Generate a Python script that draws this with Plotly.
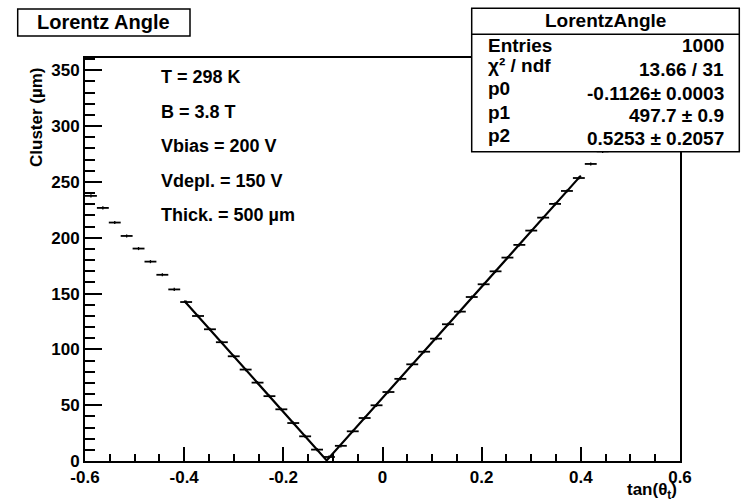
import numpy as np
import plotly.graph_objects as go

# Histogram binning of tan(theta_t)
n_bins = 50
bin_lo, bin_hi = -0.6, 0.6

# Mean cluster size per bin (um)
cluster = [
    237.5, 226.7, 213.6, 201.6, 190.3, 178.6, 166.8, 153.7, 142.4, 129.9,
    118.0, 106.4, 93.8, 81.9, 70.2, 58.1, 46.3, 34.0, 22.1, 10.2,
    3.6, 13.6, 26.6, 38.5, 49.9, 61.8, 73.6, 86.6, 97.9, 109.6,
    122.5, 133.8, 146.9, 158.3, 169.9, 182.2, 193.6, 206.4, 218.0, 230.3,
    241.9, 253.5, 266.1, 277.4, 289.2, 300.8, 312.5, 323.9, 334.6, 342.0,
]
cluster_err = 1.4

# Fit result: p1*|x - p0| + p2 over [fit_lo, fit_hi]
p0, p0_err = -0.1126, 0.0003
p1, p1_err = 497.7, 0.9
p2, p2_err = 0.5253, 0.2057
fit_lo, fit_hi = -0.4, 0.4
entries = 1000
chi2, ndf = 13.66, 31

conditions = ["T = 298 K", "B = 3.8 T", "Vbias = 200 V", "Vdepl. = 150 V", "Thick. = 500 \u00b5m"]

x_ticks = [-0.6, -0.4, -0.2, 0, 0.2, 0.4, 0.6]
x_ticktext = ["-0.6", "-0.4", "-0.2", "0", "0.2", "0.4", "0.6"]
y_ticks = [0, 50, 100, 150, 200, 250, 300, 350]

bin_w = (bin_hi - bin_lo) / n_bins
centers = bin_lo + bin_w * (np.arange(n_bins) + 0.5)

# Page geometry (pixels)
FW, FH = 748, 503
ML, MR, MT, MB = 85, 68, 58, 42
PW, PH = FW - ML - MR, FH - MT - MB


def px(x):
    return (x - ML) / PW


def py(y):
    return (FH - MB - y) / PH


FONT = "Liberation Sans, Arial, Helvetica, sans-serif"

fig = go.Figure()

fig.add_trace(go.Scatter(
    x=centers, y=cluster, mode="markers",
    marker=dict(size=1, color="black"),
    error_x=dict(type="constant", value=bin_w / 2, width=0, thickness=1.8, color="black"),
    error_y=dict(type="constant", value=cluster_err, width=0, thickness=1.3, color="black"),
    showlegend=False, hoverinfo="skip",
))

fit_x = [fit_lo, p0, fit_hi]
fit_y = [p1 * abs(v - p0) + p2 for v in fit_x]
fig.add_trace(go.Scatter(
    x=fit_x, y=fit_y, mode="lines",
    line=dict(color="black", width=2.2),
    showlegend=False, hoverinfo="skip",
))

axis_common = dict(
    showline=True, linecolor="black", linewidth=2, mirror=True,
    showgrid=False, zeroline=False, ticks="inside", tickcolor="black",
    tickfont=dict(family=FONT, size=17, color="black", weight="bold"),
)

fig.update_xaxes(
    range=[bin_lo, bin_hi], tickvals=x_ticks, ticktext=x_ticktext,
    ticklen=14, tickwidth=2,
    minor=dict(dtick=0.05, tick0=0, ticks="inside", ticklen=7, tickwidth=1.5, tickcolor="black"),
    **axis_common,
)
fig.update_yaxes(
    range=[0, 361], tickvals=y_ticks, ticklen=17, tickwidth=2,
    minor=dict(dtick=10, tick0=0, ticks="inside", ticklen=10, tickwidth=1.5, tickcolor="black"),
    **axis_common,
)

shapes = []
annotations = []

# Title box
shapes.append(dict(type="rect", xref="paper", yref="paper",
                   x0=px(17.7), x1=px(190), y0=py(36), y1=py(9),
                   line=dict(color="black", width=1.5), fillcolor="white", layer="above"))
annotations.append(dict(text="Lorentz Angle", xref="paper", yref="paper",
                        x=px(103), y=py(22.5), xanchor="center", yanchor="middle",
                        showarrow=False, font=dict(family=FONT, size=20, color="black", weight="bold")))

# Statistics box
sx0, sx1, sy0, sy1 = 471.7, 739.3, 8.3, 151.7
shapes.append(dict(type="rect", xref="paper", yref="paper",
                   x0=px(sx0), x1=px(sx1), y0=py(sy1), y1=py(sy0),
                   line=dict(color="black", width=1.5), fillcolor="white", layer="above"))
shapes.append(dict(type="line", xref="paper", yref="paper",
                   x0=px(sx0), x1=px(sx1), y0=py(34.3), y1=py(34.3),
                   line=dict(color="black", width=1.5), layer="above"))
stat_font = dict(family=FONT, size=19, color="black", weight="bold")
annotations.append(dict(text="LorentzAngle", xref="paper", yref="paper",
                        x=px((sx0 + sx1) / 2), y=py(21), xanchor="center", yanchor="middle",
                        showarrow=False, font=stat_font))
stat_rows = [
    ("Entries", f"{entries}", 45, 46),
    ("\u03c7\u00b2 / ndf", f"{chi2:.2f} / {ndf}", 66, 70),
    ("p0", f"{p0:.4f}\u00b1 {p0_err:.4f}", 88, 93),
    ("p1", f"{p1:.1f} \u00b1 {p1_err:.1f}", 112, 115),
    ("p2", f"{p2:.4f} \u00b1 {p2_err:.4f}", 135, 138),
]
for label, value, yl, yv in stat_rows:
    annotations.append(dict(text=label, xref="paper", yref="paper",
                            x=px(486), y=py(yl), xanchor="left", yanchor="middle",
                            showarrow=False, font=stat_font))
    annotations.append(dict(text=value, xref="paper", yref="paper",
                            x=px(726), y=py(yv), xanchor="right", yanchor="middle",
                            showarrow=False, font=stat_font))

# Run conditions
for i, txt in enumerate(conditions):
    annotations.append(dict(text=txt, xref="paper", yref="paper",
                            x=px(159), y=py(77 + 34.5 * i), xanchor="left", yanchor="middle",
                            showarrow=False, font=dict(family=FONT, size=18, color="black", weight="bold")))

# Axis titles
annotations.append(dict(text="tan(\u03b8<sub>t</sub>)", xref="paper", yref="paper",
                        x=px(679), y=py(491), xanchor="right", yanchor="middle",
                        showarrow=False, font=dict(family=FONT, size=17, color="black", weight="bold")))
annotations.append(dict(text="Cluster (\u00b5m)", xref="paper", yref="paper",
                        x=px(36.5), y=py(117.5), xanchor="center", yanchor="middle", textangle=-90,
                        showarrow=False, font=dict(family=FONT, size=17, color="black", weight="bold")))

fig.update_layout(
    width=FW, height=FH,
    margin=dict(l=ML, r=MR, t=MT, b=MB),
    paper_bgcolor="white", plot_bgcolor="white",
    shapes=shapes, annotations=annotations,
)

fig.write_html("out.html")
